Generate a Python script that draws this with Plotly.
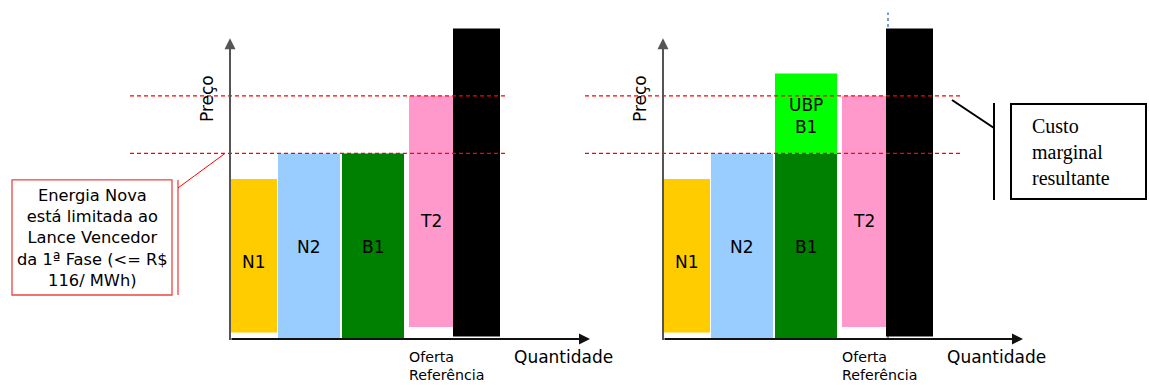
import plotly.graph_objects as go

# ---------------- data ----------------
categories = ["N1", "N2", "B1", "T2", "Ref"]
q_start = [0.0, 4.8, 11.2, 17.9, 22.3]        # cumulative quantity at bar start
q_width = [4.7, 6.2, 6.2, 4.4, 4.7]           # quantity offered
price_top = [100, 116, 116, 152, 194]         # price level
price_base = [4, 0.6, 0.6, 7.5, 1.5]
colors = ["#FFCC00", "#99CCFF", "#008000", "#FF99CC", "#000000"]

ubp_label = "UBP<br>B1"
ubp_base = 116
ubp_top = 166
ubp_color = "#00FF00"

limit_price = 116      # Lance vencedor 1a fase
marginal_price = 152   # custo marginal resultante
ref_quantity = 22.5    # oferta de referência

label_y = [48, 57.5, 57.5, 74, None]
FONT = "DejaVu Sans"

fig = go.Figure()

def centers(starts, widths):
    return [s + w / 2 for s, w in zip(starts, widths)]

for xa in ["x", "x2"]:
    fig.add_trace(go.Bar(
        x=centers(q_start, q_width), width=q_width,
        base=price_base, y=[t - b for t, b in zip(price_top, price_base)],
        marker=dict(color=colors, line=dict(width=0)),
        xaxis=xa, yaxis="y", showlegend=False, hoverinfo="skip"))

# UBP block on B1 (right panel)
fig.add_trace(go.Bar(
    x=[q_start[2] + q_width[2] / 2], width=[q_width[2]],
    base=[ubp_base], y=[ubp_top - ubp_base],
    marker=dict(color=ubp_color, line=dict(width=0)),
    xaxis="x2", yaxis="y", showlegend=False, hoverinfo="skip"))

annotations = []
shapes = []

# blue dotted reference line (right)
shapes.append(dict(type="line", xref="x2", yref="y", x0=ref_quantity, x1=ref_quantity,
                   y0=0, y1=204, line=dict(color="#4A7EBB", width=1.5, dash="dot"),
                   layer="below"))

panels = [("x", -10, 27.7), ("x2", -7.8, 30.0)]
for xa, x0, x1 in panels:
    for p in [marginal_price, limit_price]:
        shapes.append(dict(type="line", xref=xa, yref="y", x0=x0, x1=x1, y0=p, y1=p,
                           line=dict(color="#FF0000", width=1.3, dash="4px,3px"),
                           layer="above"))
    # axes arrows
    annotations.append(dict(xref=xa, yref="y", axref=xa, ayref="y",
                            x=0, y=188, ax=0, ay=-1.5, text="", showarrow=True,
                            arrowhead=2, arrowsize=1.1, arrowwidth=2,
                            arrowcolor="#555555", standoff=0))
    annotations.append(dict(xref=xa, yref="y", axref=xa, ayref="y",
                            x=36, y=0, ax=0, ay=0, text="", showarrow=True,
                            arrowhead=2, arrowsize=1.1, arrowwidth=2,
                            arrowcolor="#111111", standoff=0))
    # Preço label
    annotations.append(dict(xref=xa, yref="y", x=-2.3, y=150, text="Preço",
                            showarrow=False, textangle=-90,
                            font=dict(family=FONT, size=17, color="black")))
    # Quantidade
    annotations.append(dict(xref=xa, yref="y", x=28.2, y=-11.3, text="Quantidade",
                            showarrow=False, xanchor="left",
                            font=dict(family=FONT, size=17, color="black")))
    # Oferta Referência
    annotations.append(dict(xref=xa, yref="y", x=17.7, y=-16.9,
                            text="Oferta<br>Referência", showarrow=False,
                            xanchor="left", align="left",
                            font=dict(family=FONT, size=14.2, color="black")))
    # bar labels
    for c, s, w, ly in zip(categories, q_start, q_width, label_y):
        if ly is None:
            continue
        annotations.append(dict(xref=xa, yref="y", x=s + w / 2, y=ly, text=c,
                                showarrow=False,
                                font=dict(family=FONT, size=17, color="black")))

# UBP label
annotations.append(dict(xref="x2", yref="y", x=q_start[2] + q_width[2] / 2, y=139.5,
                        text=ubp_label, showarrow=False,
                        font=dict(family=FONT, size=17, color="black")))

# left callout
shapes.append(dict(type="rect", xref="x", yref="y", x0=-21.8, x1=-5.8, y0=27.5, y1=99.4,
                   line=dict(color="#EE4444", width=1.3), fillcolor="white"))
shapes.append(dict(type="line", xref="x", yref="y", x0=-5.2, x1=-5.2, y0=27.5, y1=99.4,
                   line=dict(color="#EE4444", width=1.3)))
shapes.append(dict(type="line", xref="x", yref="y", x0=-5.2, x1=-0.5, y0=94.4, y1=limit_price,
                   line=dict(color="#FF0000", width=1)))
annotations.append(dict(xref="x", yref="y", x=-13.8, y=63,
                        text="Energia Nova<br>está limitada ao<br>Lance Vencedor<br>da 1ª Fase (<= R$<br>116/ MWh)",
                        showarrow=False, align="center",
                        font=dict(family=FONT, size=16.3, color="black")))

# right callout
shapes.append(dict(type="line", xref="x2", yref="y", x0=28.9, x1=33.1, y0=149.4, y1=131.9,
                   line=dict(color="black", width=2)))
shapes.append(dict(type="line", xref="x2", yref="y", x0=33.1, x1=33.1, y0=86.9, y1=147.5,
                   line=dict(color="black", width=2)))
shapes.append(dict(type="rect", xref="x2", yref="y", x0=34.8, x1=48.3, y0=87.5, y1=146.9,
                   line=dict(color="black", width=2), fillcolor="white"))
annotations.append(dict(xref="x2", yref="y", x=36.7, y=116.6,
                        text="Custo<br>marginal<br>resultante", showarrow=False,
                        xanchor="left", align="left",
                        font=dict(family="Liberation Serif", size=20, color="black")))

axis_common = dict(showgrid=False, zeroline=False, showticklabels=False,
                   showline=False, ticks="", fixedrange=True)
fig.update_layout(
    width=1149, height=385,
    margin=dict(l=0, r=0, t=0, b=0),
    paper_bgcolor="white", plot_bgcolor="white",
    barmode="overlay",
    xaxis=dict(domain=[0, 0.5], range=[-23.0, 34.45], **axis_common),
    xaxis2=dict(domain=[0.5, 1], range=[-8.85, 48.6], anchor="y", **axis_common),
    yaxis=dict(domain=[0, 1], range=[-28.75, 211.875], **axis_common),
    shapes=shapes, annotations=annotations,
)

fig.write_html("out.html", config={"displayModeBar": False},
               post_script="document.body.style.margin='0';document.body.style.overflow='hidden';")
